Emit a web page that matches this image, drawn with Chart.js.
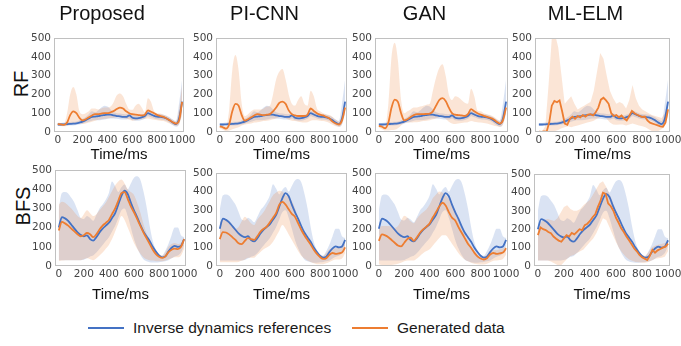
<!DOCTYPE html>
<html>
<head>
<meta charset="utf-8">
<script src="https://cdn.jsdelivr.net/npm/chart.js@4.4.1/dist/chart.umd.min.js"></script>
<style>
  body { margin: 0; width: 681px; height: 346px; position: relative; overflow: hidden; background: #fff;
         font-family: "Liberation Sans", Arial, sans-serif; color: #111; }
  canvas { position: absolute; }
  .ylab { position: absolute; font-size: 20px; line-height: 1; white-space: nowrap;
          transform: translate(-50%, -50%) rotate(-90deg); }
  .key { position: absolute; top: 318px; height: 20px; display: flex; align-items: center; font-size: 15.5px; white-space: nowrap; color: #1a1a1a; }
  .key span { display: inline-block; width: 36px; height: 2px; margin-right: 9px; }
</style>
</head>
<body>
<div class="ylab" style="left:21px;top:84px">RF</div>
<div class="ylab" style="left:23px;top:206px">BFS</div>
<div class="key" style="left:88px"><span style="background:#4472c4"></span>Inverse dynamics references</div>
<div class="key" style="left:352px"><span style="background:#ed7d31"></span>Generated data</div>

<script>
// time axis (ms)
const t = [0,25,50,75,100,125,150,175,200,225,250,275,300,325,350,375,400,425,450,475,500,
           525,550,575,600,625,650,675,700,725,750,775,800,825,850,875,900,925,950,975,1000];
const tMl = [0,20,40,60,80,100,120,140,160,180,200,220,240,260,280,300,320,340,360,380,400,
             420,440,460,480,500,520,540,560,580,600,620,640,660,680,700,720,740,760,780,800,
             820,840,860,880,900,920,940,960,980,1000];
const xTicks = [0, 200, 400, 600, 800, 1000];
const yTicks = [0, 100, 200, 300, 400, 500];
const methods = ['Proposed', 'PI-CNN', 'GAN', 'ML-ELM'];
const rows = ['RF', 'BFS'];

// inverse dynamics references (same in every column)
const rfRef   = [40,40,41,42,43,44,46,50,55,63, 72,80,82,84,88,90,92,92,88,85, 83,80,80,88,76,73,74,78,85,100, 93,86,82,80,78,72,62,50,42,70, 162];
const rfRefUp = [48,48,50,52,53,54,56,62,70,80, 95,110,105,115,130,140,135,120,105,100, 98,96,95,100,90,88,88,92,100,115, 108,100,96,94,92,86,78,66,58,150, 280];
const rfRefLo = [32,32,33,33,34,35,37,40,44,50, 55,60,62,62,64,66,70,72,72,70, 68,66,66,72,62,60,60,64,70,84, 78,72,68,66,64,58,48,36,28,40, 100];

const bfsRef   = [200,255,248,235,215,195,175,162,155,160, 140,132,150,175,195,210,225,250,275,320, 365,392,375,330,290,255,215,180,155,130, 100,75,55,45,50,75,95,105,100,105, 140];
const bfsRefUp = [300,380,385,378,355,330,290,250,245,260, 250,235,265,300,320,345,380,440,415,385, 410,425,400,430,460,468,450,390,310,210, 130,85,60,55,80,115,160,200,200,160, 150];
const bfsRefLo = [30,30,30,30,30,30,30,30,32,40, 50,55,70,90,110,130,150,180,210,250, 290,300,260,200,140,95,60,35,25,20, 18,18,20,22,25,30,40,50,55,70, 110];

// generated data, RF
const pRf     = [42,40,38,50,90,110,100,75,62,68, 78,88,95,95,98,100,100,105,112,122, 130,125,110,100,95,92,90,88,92,115, 108,100,90,85,80,72,62,52,45,60, 160];
const pRfUp   = [50,48,45,100,200,240,200,110,95,100, 110,125,125,120,125,130,130,135,160,195, 205,190,150,120,118,140,150,130,105,180, 160,110,100,98,92,85,75,65,55,120, 250];
const pRfLo   = [34,32,30,32,40,45,45,45,42,45, 50,55,60,65,68,70,72,74,76,78, 80,75,70,65,60,62,65,68,70,72, 68,65,62,60,58,52,45,38,32,40, 90];
const piRf    = [30,25,18,40,110,150,140,90,60,68, 78,88,95,92,90,92,95,110,130,155, 162,150,115,95,88,85,85,85,92,125, 112,100,92,88,80,72,55,45,40,62, 130];
const piRfUp  = [40,35,30,120,330,410,330,150,85,95, 110,120,120,120,125,135,140,200,280,320, 335,280,200,150,140,170,190,150,140,220, 190,125,110,100,95,90,80,65,55,90, 150];
const piRfLo  = [20,12,5,8,15,20,25,35,40,42, 45,50,52,55,58,60,62,68,72,78, 80,75,65,60,58,55,52,50,52,60, 62,62,60,58,55,48,38,30,28,40, 100];
const ganRf   = [32,28,20,50,130,172,160,100,62,68, 80,90,95,95,95,96,98,110,140,170, 180,165,130,100,92,90,88,85,95,122, 110,100,92,86,80,75,68,55,45,62, 130];
const ganRfUp = [42,38,35,150,400,475,380,170,100,110, 120,130,130,135,140,145,150,220,290,340, 360,300,200,170,190,185,170,155,150,230, 190,115,110,100,95,90,82,70,60,100, 140];
const ganRfLo = [22,15,8,8,10,12,20,35,48,50, 50,52,52,55,58,60,62,68,72,78, 80,70,55,45,42,45,48,50,52,58, 55,52,50,48,45,40,35,30,28,40, 100];
const mlRf    = [2,0,3,2,50,140,165,158,168,110, 45,38,70,82,70,85,78,90,82,92, 95,88,105,130,172,182,168,150,100,85, 90,78,88,72,62,85,112,100,92,86, 80,82,62,50,45,40,35,30,28,50, 120];
const mlRfUp  = [5,5,30,250,500,520,450,300,150,170, 190,150,120,130,140,150,160,220,320,420, 390,300,220,180,150,160,150,125,170,250, 180,140,120,110,100,90,85,80,75,100, 130];
const mlRfLo  = [0,0,0,0,0,5,10,20,25,30, 25,30,35,40,45,50,55,60,70,80, 85,70,50,40,38,40,40,35,40,45, 40,35,30,25,15,5,0,5,15,30, 90];

// generated data, BFS
const pBfs     = [185,230,222,210,195,180,165,155,160,172, 165,150,165,190,210,225,240,270,300,340, 380,385,350,310,280,245,210,175,145,115, 85,62,48,42,50,72,85,90,88,100, 140];
const pBfsUp   = [320,335,330,315,300,280,260,250,270,290, 275,260,270,290,310,330,360,390,420,440, 450,430,400,385,370,330,280,220,170,130, 95,70,58,55,70,100,115,120,115,120, 150];
const pBfsLo   = [25,28,30,30,30,30,30,30,35,40, 35,30,40,55,70,90,110,140,180,220, 260,240,200,160,120,90,65,45,35,30, 28,25,25,25,28,35,40,45,45,55, 90];
const piBfs    = [145,182,180,170,155,140,122,118,135,150, 145,140,160,185,200,212,235,260,285,330, 345,330,305,280,265,230,195,165,140,115, 88,65,48,38,42,60,70,65,68,72, 100];
const piBfsUp  = [230,250,250,240,220,200,210,240,265,250, 230,220,250,270,290,320,350,380,395,405, 400,380,370,350,310,260,210,170,135,110, 85,65,55,55,70,90,95,95,100,110, 125];
const piBfsLo  = [20,20,20,20,20,20,22,28,35,45, 45,45,60,75,90,100,110,130,160,190, 220,200,170,140,110,80,55,40,30,22, 15,10,10,10,15,22,30,35,35,40, 70];
const ganBfs   = [135,170,165,155,140,125,110,105,125,145, 152,135,155,180,198,212,230,262,290,320, 340,325,290,260,245,210,180,150,120,98, 72,52,40,35,42,62,70,65,68,72, 95];
const ganBfsUp = [200,215,215,215,210,205,215,245,270,260, 240,230,255,275,290,305,330,365,385,400, 395,380,360,330,290,250,210,170,140,110, 80,60,50,50,60,80,85,85,90,95, 105];
const ganBfsLo = [10,5,3,3,5,8,12,18,25,30, 30,30,40,55,70,80,90,110,130,150, 165,165,145,120,95,70,50,35,25,18, 12,10,8,8,12,20,28,30,32,38, 60];
const mlBfs    = [168,210,200,195,185,178,160,148,138,132, 150,168,160,180,172,185,200,195,222,230, 245,265,280,320,352,398,392,340,325,300, 262,235,205,185,160,140,118,95,80,60, 48,40,32,55,88,72,85,92,100,105, 122];
const mlBfsUp  = [200,240,250,255,250,245,260,290,320,330, 310,300,300,310,330,345,360,390,420,450, 460,430,390,350,300,260,220,180,140,115, 95,75,60,55,75,100,110,115,120,125, 135];
const mlBfsLo  = [30,30,30,30,25,15,5,2,20,40, 55,60,70,80,90,110,130,150,180,220, 260,250,210,170,130,95,70,50,35,28, 22,20,18,18,22,30,40,42,45,50, 80];

const BLUE = '#4472c4', ORANGE = '#ed7d31';
const BLUE_BAND = 'rgba(68,114,196,0.2)', ORANGE_BAND = 'rgba(237,125,49,0.2)';

const frame = {
  id: 'frame',
  afterDatasetsDraw(chart) {
    const { ctx, chartArea: a } = chart;
    ctx.save();
    ctx.strokeStyle = '#c0c0c0';
    ctx.lineWidth = 1;
    ctx.strokeRect(Math.round(a.left) + 0.5, Math.round(a.top) + 0.5, Math.round(a.width) - 1, Math.round(a.height) - 1);
    ctx.restore();
  }
};

function pts(xs, ys) { return xs.map((x, i) => ({ x: x, y: ys[i] })); }

function meanLine(xs, ys, color, sharp) {
  return { data: pts(xs, ys), borderColor: color, borderWidth: 1.8, pointRadius: 0, fill: false,
           tension: sharp ? 0 : 0.4, cubicInterpolationMode: sharp ? 'default' : 'monotone' };
}
function bandLine(ys, color, fill, sharp) {
  return { data: pts(t, ys), borderWidth: 0, borderColor: 'rgba(0,0,0,0)', backgroundColor: color,
           pointRadius: 0, fill: fill, tension: sharp ? 0 : 0.4, cubicInterpolationMode: sharp ? 'default' : 'monotone' };
}

const tickFont = { family: 'DejaVu Sans', size: 10.5 };

function panel(row, col, box, gen, genUp, genLo) {
  const sharp = col === 3;
  const ref = row === 0 ? rfRef : bfsRef;
  const refUp = row === 0 ? rfRefUp : bfsRefUp;
  const refLo = row === 0 ? rfRefLo : bfsRefLo;
  const side = 34;
  const top = row === 0 ? 0 : 160;
  const h = row === 0 ? 166 : 145;
  const xH = row === 0 ? 166 - box.b : 305 - box.b;

  const c = document.createElement('canvas');
  c.width = box.r - box.l + side * 2;
  c.height = h;
  c.style.left = (box.l - side) + 'px';
  c.style.top = top + 'px';
  document.body.appendChild(c);

  new Chart(c, {
    type: 'line',
    data: {
      datasets: [
        meanLine(sharp ? tMl : t, gen, ORANGE, sharp),
        meanLine(t, ref, BLUE, false),
        bandLine(genUp, ORANGE_BAND, '+1', sharp),
        bandLine(genLo, ORANGE_BAND, false, sharp),
        bandLine(refUp, BLUE_BAND, '+1', false),
        bandLine(refLo, BLUE_BAND, false, false)
      ]
    },
    options: {
      responsive: false,
      animation: false,
      events: [],
      layout: { padding: { top: row === 0 ? 0 : box.t - 160, right: side, left: 0, bottom: 0 } },
      plugins: {
        legend: { display: false },
        tooltip: { enabled: false },
        title: {
          display: row === 0,
          text: methods[col],
          color: '#111',
          font: { family: 'Liberation Sans', size: 20, weight: 'normal' },
          padding: { top: 2, bottom: 12 }
        }
      },
      scales: {
        x: {
          type: 'linear', min: -30, max: 1015,
          afterBuildTicks: s => { s.ticks = xTicks.map(v => ({ value: v })); },
          afterFit: s => { s.height = xH; },
          grid: { display: false, drawTicks: false },
          border: { display: false },
          ticks: { autoSkip: false, maxRotation: 0, padding: 2, color: '#444', font: tickFont,
                   callback: v => String(v) },
          title: { display: true, text: 'Time/ms', color: '#111',
                   font: { family: 'Liberation Sans', size: 15 },
                   padding: { top: 0, bottom: row === 0 ? 2 : 1 } }
        },
        y: {
          min: 0, max: 500,
          afterBuildTicks: s => { s.ticks = yTicks.map(v => ({ value: v })); },
          afterFit: s => { s.width = side; },
          grid: { display: false, drawTicks: false },
          border: { display: false },
          ticks: { padding: 3, color: '#444', font: tickFont, callback: v => String(v) }
        }
      }
    },
    plugins: [frame]
  });
}

panel(0, 0, { l: 54, r: 184, t: 38, b: 132 }, pRf, pRfUp, pRfLo);
panel(0, 1, { l: 216, r: 347, t: 38, b: 132 }, piRf, piRfUp, piRfLo);
panel(0, 2, { l: 375, r: 508, t: 38, b: 132 }, ganRf, ganRfUp, ganRfLo);
panel(0, 3, { l: 535, r: 670, t: 38, b: 132 }, mlRf, mlRfUp, mlRfLo);
panel(1, 0, { l: 55, r: 186, t: 170, b: 266 }, pBfs, pBfsUp, pBfsLo);
panel(1, 1, { l: 216, r: 347, t: 173, b: 266 }, piBfs, piBfsUp, piBfsLo);
panel(1, 2, { l: 375, r: 508, t: 173, b: 266 }, ganBfs, ganBfsUp, ganBfsLo);
panel(1, 3, { l: 534, r: 670, t: 174, b: 266 }, mlBfs, mlBfsUp, mlBfsLo);
</script>
</body>
</html>
